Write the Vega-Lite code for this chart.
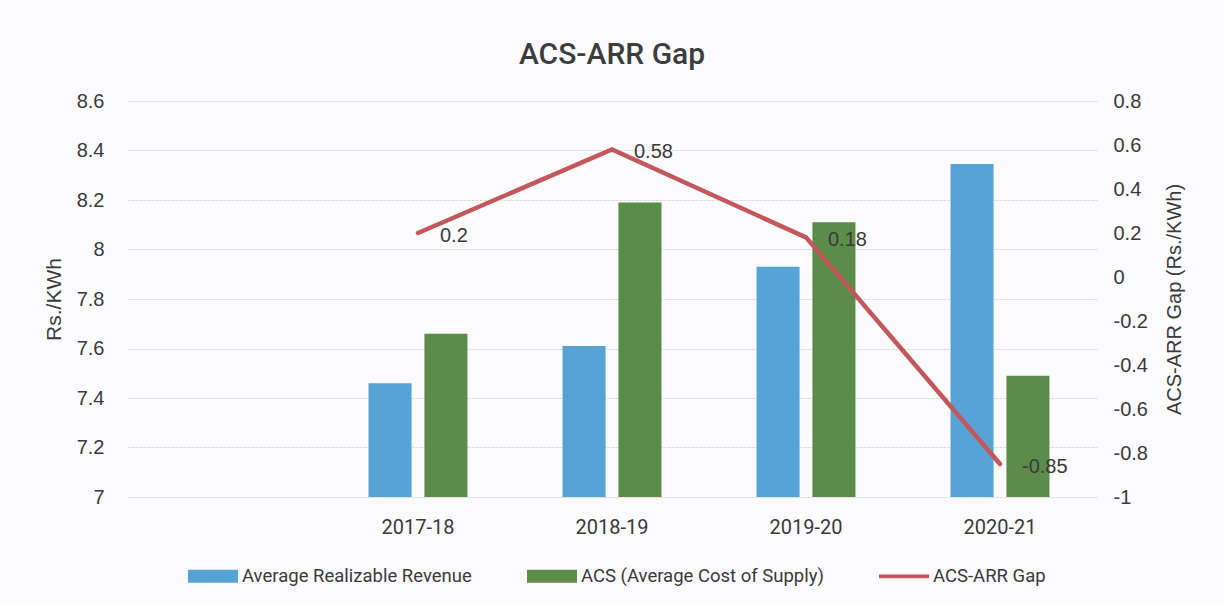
{
  "$schema": "https://vega.github.io/schema/vega-lite/v6.json",
  "autosize": {"type": "none"},
  "width": 970,
  "height": 396,
  "padding": {"left": 127, "top": 101, "right": 126, "bottom": 108},
  "background": "#fbfbfd",
  "config": {
    "view": {"stroke": null},
    "axis": {"labelColor": "#3a3a3a", "titleColor": "#3a3a3a", "ticks": false, "tickSize": 0, "domain": false}
  },
  "title": {
    "text": "ACS-ARR Gap",
    "font": "Roboto",
    "fontSize": 30,
    "fontWeight": 500,
    "color": "#3d3d3d",
    "anchor": "middle",
    "frame": "group",
    "baseline": "alphabetic",
    "offset": -3
  },
  "datasets": {
    "bars": [
      {"year": "2017-18", "series": "Average Realizable Revenue", "value": 7.46},
      {"year": "2017-18", "series": "ACS (Average Cost of Supply)", "value": 7.66},
      {"year": "2018-19", "series": "Average Realizable Revenue", "value": 7.61},
      {"year": "2018-19", "series": "ACS (Average Cost of Supply)", "value": 8.19},
      {"year": "2019-20", "series": "Average Realizable Revenue", "value": 7.93},
      {"year": "2019-20", "series": "ACS (Average Cost of Supply)", "value": 8.11},
      {"year": "2020-21", "series": "Average Realizable Revenue", "value": 8.345},
      {"year": "2020-21", "series": "ACS (Average Cost of Supply)", "value": 7.49}
    ],
    "gap": [
      {"year": "2017-18", "gap": 0.2, "label": "0.2"},
      {"year": "2018-19", "gap": 0.58, "label": "0.58"},
      {"year": "2019-20", "gap": 0.18, "label": "0.18"},
      {"year": "2020-21", "gap": -0.85, "label": "-0.85"}
    ]
  },
  "layer": [
    {
      "data": {"name": "bars"},
      "mark": {"type": "bar"},
      "encoding": {
        "x": {
          "field": "year",
          "type": "nominal",
          "scale": {"domain": [" ", "2017-18", "2018-19", "2019-20", "2020-21"], "paddingInner": 0.49, "paddingOuter": 0.245},
          "axis": {"title": null, "labelAngle": 0, "labelFont": "Roboto", "labelFontSize": 20, "labelPadding": 20, "grid": false}
        },
        "xOffset": {
          "field": "series",
          "type": "nominal",
          "sort": ["Average Realizable Revenue", "ACS (Average Cost of Supply)"],
          "scale": {"paddingInner": 0.23, "paddingOuter": 0}
        },
        "y": {
          "field": "value",
          "type": "quantitative",
          "scale": {"domain": [7, 8.6], "zero": false, "nice": false},
          "axis": {
            "title": "Rs./KWh",
            "titleFont": "Liberation Sans",
            "titleFontSize": 21,
            "titleFontWeight": "normal",
            "titlePadding": 12,
            "labelFont": "Liberation Sans",
            "labelFontSize": 20,
            "labelPadding": 23,
            "values": [7, 7.2, 7.4, 7.6, 7.8, 8, 8.2, 8.4, 8.6],
            "labelExpr": "'' + datum.value",
            "grid": true,
            "gridColor": "#dcdcdc",
            "gridWidth": 1,
            "gridDash": [3, 1]
          }
        },
        "y2": {"datum": 7},
        "color": {
          "field": "series",
          "type": "nominal",
          "scale": {
            "domain": ["Average Realizable Revenue", "ACS (Average Cost of Supply)", "ACS-ARR Gap"],
            "range": ["#58a3d6", "#5b8c49", "#c2575c"]
          },
          "legend": {
            "orient": "none",
            "legendX": 61,
            "legendY": 450,
            "direction": "horizontal",
            "title": null,
            "padding": 0,
            "labelFont": "Roboto",
            "labelFontSize": 18.5,
            "labelColor": "#3a3a3a",
            "labelOffset": 4,
            "columnPadding": 55,
            "symbolSize": 2500,
            "labelLimit": 400,
            "encode": {
              "symbols": {
                "update": {
                  "shape": {"signal": "datum.value === 'ACS-ARR Gap' ? 'M-1,-0.075h2v0.15h-2z' : 'M-1,-0.26h2v0.52h-2z'"},
                  "fill": {"scale": "color", "field": "value"},
                  "strokeWidth": {"value": 0},
                  "opacity": {"value": 1}
                }
              }
            }
          }
        }
      }
    },
    {
      "data": {"name": "gap"},
      "encoding": {
        "x": {"field": "year", "type": "nominal"},
        "y": {
          "field": "gap",
          "type": "quantitative",
          "scale": {"domain": [-1, 0.8], "zero": false, "nice": false},
          "axis": {
            "orient": "right",
            "title": "ACS-ARR Gap (Rs./KWh)",
            "titleAngle": 270,
            "titleFont": "Liberation Sans",
            "titleFontSize": 20,
            "titleFontWeight": "normal",
            "titlePadding": 37,
            "labelFont": "Liberation Sans",
            "labelFontSize": 20,
            "labelPadding": 16,
            "values": [-1, -0.8, -0.6, -0.4, -0.2, 0, 0.2, 0.4, 0.6, 0.8],
            "labelExpr": "'' + datum.value",
            "grid": false
          }
        }
      },
      "layer": [
        {
          "mark": {"type": "line", "strokeWidth": 4.5, "strokeCap": "round"},
          "encoding": {"color": {"datum": "ACS-ARR Gap"}}
        },
        {
          "mark": {"type": "text", "align": "left", "baseline": "middle", "dx": 22, "dy": 3, "font": "Liberation Sans", "fontSize": 20, "color": "#3a3a3a"},
          "encoding": {"text": {"field": "label", "type": "nominal"}}
        }
      ]
    }
  ],
  "resolve": {"scale": {"y": "independent"}}
}
